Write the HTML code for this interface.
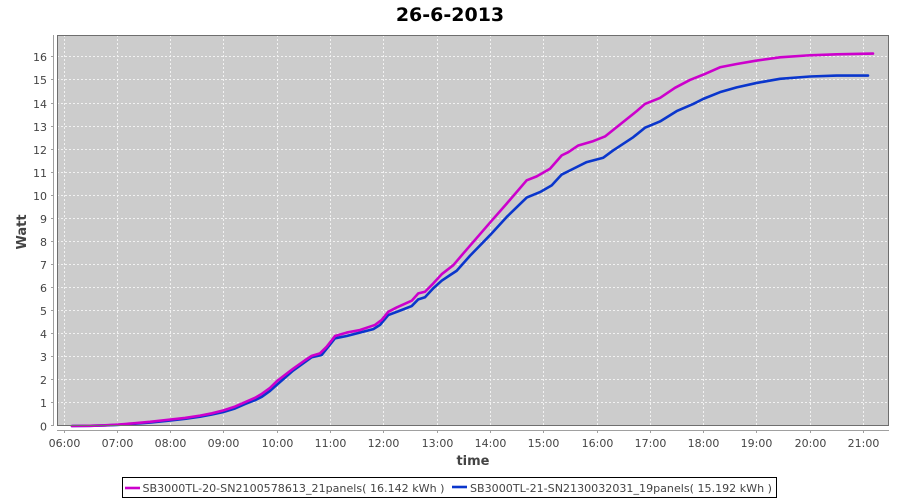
<!DOCTYPE html>
<html>
<head>
<meta charset="utf-8">
<style>
html,body{margin:0;padding:0;background:#fff;}
svg{display:block;}
text{font-family:"DejaVu Sans","Liberation Sans",sans-serif;}
</style>
</head>
<body>
<svg width="900" height="500" viewBox="0 0 900 500" xmlns="http://www.w3.org/2000/svg">
<rect x="0" y="0" width="900" height="500" fill="#ffffff"/>
<!-- title -->
<text x="450" y="21" text-anchor="middle" font-size="19" font-weight="bold" fill="#000">26-6-2013</text>
<!-- plot background -->
<rect x="57" y="35" width="832" height="391" fill="#cccccc"/>
<!-- grid -->
<g stroke="#f2f2f2" stroke-width="1" stroke-dasharray="2,2" fill="none">
<line x1="64.5" y1="35" x2="64.5" y2="426"/>
<line x1="117.5" y1="35" x2="117.5" y2="426"/>
<line x1="170.5" y1="35" x2="170.5" y2="426"/>
<line x1="223.5" y1="35" x2="223.5" y2="426"/>
<line x1="277.5" y1="35" x2="277.5" y2="426"/>
<line x1="330.5" y1="35" x2="330.5" y2="426"/>
<line x1="383.5" y1="35" x2="383.5" y2="426"/>
<line x1="437.5" y1="35" x2="437.5" y2="426"/>
<line x1="490.5" y1="35" x2="490.5" y2="426"/>
<line x1="543.5" y1="35" x2="543.5" y2="426"/>
<line x1="597.5" y1="35" x2="597.5" y2="426"/>
<line x1="650.5" y1="35" x2="650.5" y2="426"/>
<line x1="703.5" y1="35" x2="703.5" y2="426"/>
<line x1="756.5" y1="35" x2="756.5" y2="426"/>
<line x1="810.5" y1="35" x2="810.5" y2="426"/>
<line x1="863.5" y1="35" x2="863.5" y2="426"/>
<line x1="57" y1="402.5" x2="889" y2="402.5"/>
<line x1="57" y1="379.5" x2="889" y2="379.5"/>
<line x1="57" y1="356.5" x2="889" y2="356.5"/>
<line x1="57" y1="333.5" x2="889" y2="333.5"/>
<line x1="57" y1="310.5" x2="889" y2="310.5"/>
<line x1="57" y1="287.5" x2="889" y2="287.5"/>
<line x1="57" y1="264.5" x2="889" y2="264.5"/>
<line x1="57" y1="241.5" x2="889" y2="241.5"/>
<line x1="57" y1="218.5" x2="889" y2="218.5"/>
<line x1="57" y1="195.5" x2="889" y2="195.5"/>
<line x1="57" y1="172.5" x2="889" y2="172.5"/>
<line x1="57" y1="149.5" x2="889" y2="149.5"/>
<line x1="57" y1="126.5" x2="889" y2="126.5"/>
<line x1="57" y1="103.5" x2="889" y2="103.5"/>
<line x1="57" y1="79.5" x2="889" y2="79.5"/>
<line x1="57" y1="56.5" x2="889" y2="56.5"/>
</g>
<!-- series -->
<g transform="translate(0,426) scale(1,-23.07)" fill="none" stroke-linejoin="round" stroke-linecap="round">
<polyline vector-effect="non-scaling-stroke" stroke="#0a36cc" stroke-width="2.6" points="72,0 90,0.01 105,0.025 117,0.045 135,0.1 150,0.15 166,0.22 185,0.31 200,0.4 212,0.5 223,0.6 235,0.76 245,0.95 255,1.12 262,1.27 270,1.52 277,1.79 293,2.4 311.7,2.98 321.7,3.08 335,3.8 346.7,3.9 373.3,4.2 380,4.38 388.3,4.81 400,5.0 411.7,5.2 418.3,5.49 425,5.58 433.3,5.97 441.7,6.3 450,6.54 456.7,6.73 470,7.38 490,8.27 506.7,9.06 526.7,9.9 540,10.14 551.7,10.43 561.7,10.9 573.3,11.15 586.7,11.44 603.3,11.63 613.3,11.95 633.3,12.52 645,12.93 660,13.2 676.7,13.65 693.3,13.96 703.3,14.18 720,14.47 736.7,14.68 756.7,14.87 780,15.05 810,15.15 836.7,15.19 868,15.192"/>
<polyline vector-effect="non-scaling-stroke" stroke="#cc00cc" stroke-width="2.6" points="72,0 90,0.01 105,0.03 117,0.06 135,0.12 150,0.18 166,0.26 185,0.35 200,0.45 212,0.55 223,0.67 235,0.84 245,1.03 255,1.22 262,1.4 270,1.65 277,1.95 293,2.48 305,2.85 311.7,3.04 320,3.15 326.7,3.44 335,3.9 346.7,4.05 360,4.16 375,4.38 381.7,4.6 388.3,4.95 396.7,5.14 411.7,5.43 418.3,5.75 425,5.82 433.3,6.18 441.7,6.58 453.3,6.97 463.3,7.48 490.7,8.85 506.7,9.64 526.7,10.65 536.7,10.82 550,11.15 561.7,11.73 568.3,11.87 578.3,12.16 593.3,12.35 605,12.55 620,13.07 636.7,13.65 645,13.96 660,14.22 675,14.66 690,15.0 703.3,15.23 720,15.55 736.7,15.69 756.7,15.84 780,15.98 810,16.07 836.7,16.11 873,16.142"/>
</g>
<!-- plot outline -->
<rect x="57.5" y="35.5" width="831" height="390" fill="none" stroke="#6e6e6e" stroke-width="1"/>
<!-- axis lines -->
<g stroke="#a0a0a0" stroke-width="1">
<line x1="53.5" y1="35" x2="53.5" y2="426"/>
<line x1="57" y1="430.5" x2="889" y2="430.5"/>
</g>
<!-- y ticks -->
<g stroke="#a0a0a0" stroke-width="1">
<line x1="51" y1="425.5" x2="53" y2="425.5"/>
<line x1="51" y1="402.5" x2="53" y2="402.5"/>
<line x1="51" y1="379.5" x2="53" y2="379.5"/>
<line x1="51" y1="356.5" x2="53" y2="356.5"/>
<line x1="51" y1="333.5" x2="53" y2="333.5"/>
<line x1="51" y1="310.5" x2="53" y2="310.5"/>
<line x1="51" y1="287.5" x2="53" y2="287.5"/>
<line x1="51" y1="264.5" x2="53" y2="264.5"/>
<line x1="51" y1="241.5" x2="53" y2="241.5"/>
<line x1="51" y1="218.5" x2="53" y2="218.5"/>
<line x1="51" y1="195.5" x2="53" y2="195.5"/>
<line x1="51" y1="172.5" x2="53" y2="172.5"/>
<line x1="51" y1="149.5" x2="53" y2="149.5"/>
<line x1="51" y1="126.5" x2="53" y2="126.5"/>
<line x1="51" y1="103.5" x2="53" y2="103.5"/>
<line x1="51" y1="79.5" x2="53" y2="79.5"/>
<line x1="51" y1="56.5" x2="53" y2="56.5"/>
</g>
<!-- x ticks -->
<g stroke="#a0a0a0" stroke-width="1">
<line x1="64.5" y1="431" x2="64.5" y2="433"/>
<line x1="117.5" y1="431" x2="117.5" y2="433"/>
<line x1="170.5" y1="431" x2="170.5" y2="433"/>
<line x1="223.5" y1="431" x2="223.5" y2="433"/>
<line x1="277.5" y1="431" x2="277.5" y2="433"/>
<line x1="330.5" y1="431" x2="330.5" y2="433"/>
<line x1="383.5" y1="431" x2="383.5" y2="433"/>
<line x1="437.5" y1="431" x2="437.5" y2="433"/>
<line x1="490.5" y1="431" x2="490.5" y2="433"/>
<line x1="543.5" y1="431" x2="543.5" y2="433"/>
<line x1="597.5" y1="431" x2="597.5" y2="433"/>
<line x1="650.5" y1="431" x2="650.5" y2="433"/>
<line x1="703.5" y1="431" x2="703.5" y2="433"/>
<line x1="756.5" y1="431" x2="756.5" y2="433"/>
<line x1="810.5" y1="431" x2="810.5" y2="433"/>
<line x1="863.5" y1="431" x2="863.5" y2="433"/>
</g>
<!-- y labels -->
<g font-size="11" fill="#444" text-anchor="end">
<text x="47" y="430.5">0</text>
<text x="47" y="407">1</text>
<text x="47" y="384">2</text>
<text x="47" y="361">3</text>
<text x="47" y="338">4</text>
<text x="47" y="315">5</text>
<text x="47" y="292">6</text>
<text x="47" y="269">7</text>
<text x="47" y="246">8</text>
<text x="47" y="223">9</text>
<text x="47" y="200">10</text>
<text x="47" y="177">11</text>
<text x="47" y="154">12</text>
<text x="47" y="131">13</text>
<text x="47" y="108">14</text>
<text x="47" y="84">15</text>
<text x="47" y="61">16</text>
</g>
<!-- x labels -->
<g font-size="11" fill="#444" text-anchor="middle">
<text x="64.5" y="447">06:00</text>
<text x="117.5" y="447">07:00</text>
<text x="170.5" y="447">08:00</text>
<text x="223.5" y="447">09:00</text>
<text x="277.5" y="447">10:00</text>
<text x="330.5" y="447">11:00</text>
<text x="383.5" y="447">12:00</text>
<text x="437.5" y="447">13:00</text>
<text x="490.5" y="447">14:00</text>
<text x="543.5" y="447">15:00</text>
<text x="597.5" y="447">16:00</text>
<text x="650.5" y="447">17:00</text>
<text x="703.5" y="447">18:00</text>
<text x="756.5" y="447">19:00</text>
<text x="810.5" y="447">20:00</text>
<text x="863.5" y="447">21:00</text>
</g>
<!-- axis titles -->
<text x="473" y="465" text-anchor="middle" font-size="13" font-weight="bold" fill="#444">time</text>
<text transform="translate(26,232) rotate(-90)" text-anchor="middle" font-size="13" font-weight="bold" fill="#444">Watt</text>
<!-- legend -->
<rect x="122.5" y="477.5" width="654" height="20" fill="#fff" stroke="#000" stroke-width="1"/>
<line x1="125" y1="488" x2="140" y2="488" stroke="#cc00cc" stroke-width="2.6"/>
<text x="142.5" y="492" font-size="11" fill="#444" textLength="302" lengthAdjust="spacingAndGlyphs">SB3000TL-20-SN2100578613_21panels( 16.142 kWh )</text>
<line x1="452" y1="487" x2="467" y2="487" stroke="#0a36cc" stroke-width="2.6"/>
<text x="470" y="492" font-size="11" fill="#444" textLength="302" lengthAdjust="spacingAndGlyphs">SB3000TL-21-SN2130032031_19panels( 15.192 kWh )</text>
</svg>
</body>
</html>
